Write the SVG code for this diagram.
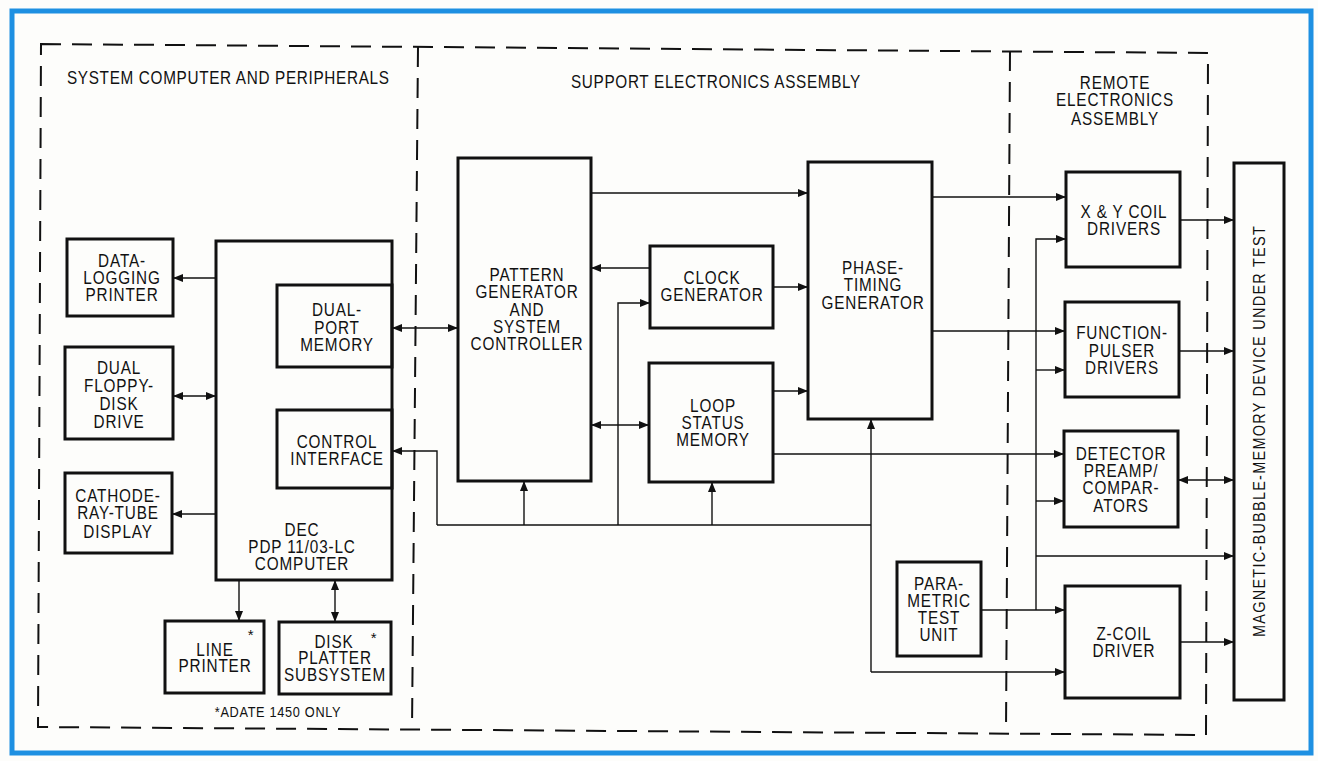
<svg xmlns="http://www.w3.org/2000/svg" width="1318" height="761" viewBox="0 0 1318 761">
<style>
.bx{fill:none;stroke:#111;stroke-width:3}
.t{font-family:"Liberation Sans",Arial,sans-serif;font-size:18px;fill:#111;text-anchor:middle;letter-spacing:1px}
.h{font-family:"Liberation Sans",Arial,sans-serif;font-size:18px;fill:#111;letter-spacing:0.8px}
.f{font-family:"Liberation Sans",Arial,sans-serif;font-size:15px;fill:#111;text-anchor:middle;letter-spacing:0.8px}
.c{fill:none;stroke:#111;stroke-width:1.4}
.e{marker-end:url(#a)}
.s{marker-start:url(#a)}
.d{fill:none;stroke:#111;stroke-width:2;stroke-dasharray:20 11}
</style>
<defs>
<marker id="a" viewBox="0 0 10 8" refX="10" refY="4" markerWidth="11" markerHeight="8" markerUnits="userSpaceOnUse" orient="auto-start-reverse"><path d="M0,0 L10,4 L0,8 z" fill="#111"/></marker>
</defs>
<rect width="1318" height="761" fill="#fdfdfb"/>
<rect x="12" y="11" width="1299" height="742" fill="none" stroke="#1e90e2" stroke-width="5"/>
<g id="boundaries">
<path class="d" d="M41,44 L1208,53 L1206,735 L38,727 Z"/>
<path class="d" d="M418,47 L412,730"/>
<path class="d" d="M1010,51 L1006,733"/>
<text class="h" transform="translate(67,84) scale(0.85,1)">SYSTEM COMPUTER AND PERIPHERALS</text>
<text class="h" transform="translate(571,88) scale(0.85,1)">SUPPORT ELECTRONICS ASSEMBLY</text>
<text class="t" transform="translate(1115,89) scale(0.85,1)">REMOTE</text>
<text class="t" transform="translate(1115,106) scale(0.85,1)">ELECTRONICS</text>
<text class="t" transform="translate(1115,125) scale(0.85,1)">ASSEMBLY</text>
<text class="f" transform="translate(278,717) scale(0.85,1)">*ADATE 1450 ONLY</text>
</g>
<g id="connectors">
<path class="c e" d="M216,278 H173"/>
<path class="c e s" d="M216,396 H173"/>
<path class="c e" d="M216,514 H172"/>
<path class="c e s" d="M392,328 H458"/>
<path class="c" d="M437,525 H871"/>
<path class="c e" d="M437,525 V451 H392"/>
<path class="c e" d="M524,525 V481"/>
<path class="c e" d="M712,525 V482"/>
<path class="c e" d="M618,525 V303 H650"/>
<path class="c e" d="M871,672 V419"/>
<path class="c e" d="M871,672 H1065"/>
<path class="c e" d="M591,193 H808"/>
<path class="c e" d="M650,268 H591"/>
<path class="c e" d="M773,287 H808"/>
<path class="c e" d="M773,391 H808"/>
<path class="c e s" d="M591,425 H649"/>
<path class="c e" d="M773,454 H1064"/>
<path class="c e" d="M932,197 H1066"/>
<path class="c e" d="M932,331 H1065"/>
<path class="c e" d="M981,610 H1065"/>
<path class="c e" d="M1036,610 V239 H1066"/>
<path class="c e" d="M1036,370 H1065"/>
<path class="c e" d="M1036,501 H1064"/>
<path class="c e" d="M1036,556 H1234"/>
<path class="c e" d="M1180,220 H1234"/>
<path class="c e" d="M1179,351 H1234"/>
<path class="c e s" d="M1178,480 H1234"/>
<path class="c e" d="M1180,642 H1234"/>
<path class="c e" d="M239,580 V621"/>
<path class="c e s" d="M335,580 V622"/>
</g>
<g id="data-logging-printer"><rect class="bx" x="67" y="239" width="106" height="77"/>
<text class="t" transform="translate(122,267) scale(0.85,1)">DATA-</text>
<text class="t" transform="translate(122,284) scale(0.85,1)">LOGGING</text>
<text class="t" transform="translate(122,301) scale(0.85,1)">PRINTER</text></g>
<g id="dual-floppy"><rect class="bx" x="65" y="347" width="108" height="92"/>
<text class="t" transform="translate(119,374) scale(0.85,1)">DUAL</text>
<text class="t" transform="translate(119,392) scale(0.85,1)">FLOPPY-</text>
<text class="t" transform="translate(119,410) scale(0.85,1)">DISK</text>
<text class="t" transform="translate(119,428) scale(0.85,1)">DRIVE</text></g>
<g id="crt-display"><rect class="bx" x="65" y="473" width="107" height="80"/>
<text class="t" transform="translate(118,502) scale(0.85,1)">CATHODE-</text>
<text class="t" transform="translate(118,519) scale(0.85,1)">RAY-TUBE</text>
<text class="t" transform="translate(118,538) scale(0.85,1)">DISPLAY</text></g>
<g id="computer"><rect class="bx" x="216" y="241" width="176" height="339"/>
<text class="t" transform="translate(302,536) scale(0.85,1)">DEC</text>
<text class="t" transform="translate(302,553) scale(0.85,1)">PDP 11/03-LC</text>
<text class="t" transform="translate(302,570) scale(0.85,1)">COMPUTER</text></g>
<g id="dual-port-memory"><rect class="bx" x="277" y="285" width="115" height="82"/>
<text class="t" transform="translate(337,316) scale(0.85,1)">DUAL-</text>
<text class="t" transform="translate(337,334) scale(0.85,1)">PORT</text>
<text class="t" transform="translate(337,351) scale(0.85,1)">MEMORY</text></g>
<g id="control-interface"><rect class="bx" x="277" y="410" width="115" height="78"/>
<text class="t" transform="translate(337,448) scale(0.85,1)">CONTROL</text>
<text class="t" transform="translate(337,465) scale(0.85,1)">INTERFACE</text></g>
<g id="line-printer"><rect class="bx" x="165" y="621" width="99" height="72"/>
<text class="t" transform="translate(215,656) scale(0.85,1)">LINE</text>
<text class="t" transform="translate(215,672) scale(0.85,1)">PRINTER</text>
<text class="f" x="251" y="640">*</text></g>
<g id="disk-platter"><rect class="bx" x="279" y="622" width="112" height="72"/>
<text class="t" transform="translate(334,648) scale(0.85,1)">DISK</text>
<text class="t" transform="translate(335,664) scale(0.85,1)">PLATTER</text>
<text class="t" transform="translate(335,681) scale(0.85,1)">SUBSYSTEM</text>
<text class="f" x="374" y="643">*</text></g>
<g id="pattern-generator"><rect class="bx" x="458" y="158" width="133" height="323"/>
<text class="t" transform="translate(527,281) scale(0.85,1)">PATTERN</text>
<text class="t" transform="translate(527,298) scale(0.85,1)">GENERATOR</text>
<text class="t" transform="translate(527,316) scale(0.85,1)">AND</text>
<text class="t" transform="translate(527,333) scale(0.85,1)">SYSTEM</text>
<text class="t" transform="translate(527,350) scale(0.85,1)">CONTROLLER</text></g>
<g id="clock-generator"><rect class="bx" x="650" y="246" width="123" height="82"/>
<text class="t" transform="translate(712,284) scale(0.85,1)">CLOCK</text>
<text class="t" transform="translate(712,301) scale(0.85,1)">GENERATOR</text></g>
<g id="loop-status-memory"><rect class="bx" x="649" y="363" width="124" height="119"/>
<text class="t" transform="translate(713,412) scale(0.85,1)">LOOP</text>
<text class="t" transform="translate(713,429) scale(0.85,1)">STATUS</text>
<text class="t" transform="translate(713,446) scale(0.85,1)">MEMORY</text></g>
<g id="phase-timing-generator"><rect class="bx" x="808" y="162" width="124" height="257"/>
<text class="t" transform="translate(873,274) scale(0.85,1)">PHASE-</text>
<text class="t" transform="translate(873,291) scale(0.85,1)">TIMING</text>
<text class="t" transform="translate(873,309) scale(0.85,1)">GENERATOR</text></g>
<g id="xy-coil-drivers"><rect class="bx" x="1066" y="172" width="114" height="95"/>
<text class="t" transform="translate(1124,218) scale(0.85,1)">X &amp; Y COIL</text>
<text class="t" transform="translate(1124,235) scale(0.85,1)">DRIVERS</text></g>
<g id="function-pulser-drivers"><rect class="bx" x="1065" y="302" width="114" height="95"/>
<text class="t" transform="translate(1122,339) scale(0.85,1)">FUNCTION-</text>
<text class="t" transform="translate(1122,357) scale(0.85,1)">PULSER</text>
<text class="t" transform="translate(1122,374) scale(0.85,1)">DRIVERS</text></g>
<g id="detector-preamp"><rect class="bx" x="1064" y="431" width="114" height="96"/>
<text class="t" transform="translate(1121,460) scale(0.85,1)">DETECTOR</text>
<text class="t" transform="translate(1121,477) scale(0.85,1)">PREAMP/</text>
<text class="t" transform="translate(1121,494) scale(0.85,1)">COMPAR-</text>
<text class="t" transform="translate(1121,512) scale(0.85,1)">ATORS</text></g>
<g id="parametric-test-unit"><rect class="bx" x="897" y="562" width="84" height="94"/>
<text class="t" transform="translate(939,590) scale(0.85,1)">PARA-</text>
<text class="t" transform="translate(939,607) scale(0.85,1)">METRIC</text>
<text class="t" transform="translate(939,624) scale(0.85,1)">TEST</text>
<text class="t" transform="translate(939,641) scale(0.85,1)">UNIT</text></g>
<g id="z-coil-driver"><rect class="bx" x="1065" y="586" width="115" height="112"/>
<text class="t" transform="translate(1124,640) scale(0.85,1)">Z-COIL</text>
<text class="t" transform="translate(1124,657) scale(0.85,1)">DRIVER</text></g>
<g id="bubble-device"><rect class="bx" x="1234" y="163" width="50" height="537"/>
<text class="t" transform="translate(1265,431) rotate(-90) scale(0.85,1)" style="font-size:17px;letter-spacing:1.5px">MAGNETIC-BUBBLE-MEMORY DEVICE UNDER TEST</text></g>
</svg>
